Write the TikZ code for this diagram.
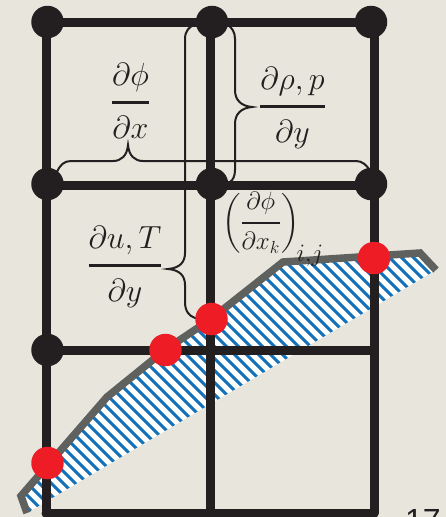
\RequirePackage{fix-cm}
\documentclass[tikz,border=0pt]{standalone}
\usepackage{amsmath}
\usepackage{fontspec}
\setmainfont{Liberation Sans}
\definecolor{bgc}{HTML}{E8E5DC}
\definecolor{ink}{HTML}{231F20}
\definecolor{surf}{HTML}{5F615E}
\definecolor{redd}{HTML}{EE1C25}
\definecolor{hatchb}{HTML}{1271B8}
\newcommand{\fr}[2]{\genfrac{}{}{3pt}{0}{#1\rule[-3pt]{0pt}{0pt}}{\rule{0pt}{26pt}#2}}
\tikzset{
  gridline/.style={draw=ink,line width=9pt,line cap=round},
  griddot/.style={circle,fill=ink,minimum size=32.5pt,inner sep=0pt},
  reddot/.style={circle,fill=redd,minimum size=32.5pt,inner sep=0pt},
  surfline/.style={draw=surf,line width=7.5pt,line join=miter},
  bracepath/.style={draw=ink,line width=2pt,line cap=round},
  stripe/.style={draw=hatchb,line width=3.1pt},
  mathlabel/.style={text=ink,inner sep=0pt,font=\fontsize{32}{38}\selectfont},
  mathsmall/.style={text=ink,inner sep=0pt,font=\fontsize{25}{30}\selectfont}
}
\begin{document}
\begin{tikzpicture}[x=1pt,y=-1pt]
\useasboundingbox (0,0) rectangle (446,517);
\clip (0,0) rectangle (446,517);
\fill[bgc] (0,0) rectangle (446,517);
% hatched body
\begin{scope}
\clip (27,513) -- (21,496) -- (107,397) -- (165,350) -- (211,319) -- (283,262) -- (420,253) -- (436,270) -- cycle;
\fill[white] (0,250) rectangle (446,517);
\foreach \k in {-30,...,45}
  \draw[stripe] ({\k*12},240) -- ++(280,280);
\end{scope}
% mask below the lower edge of the body
\fill[bgc] (27,513.5) -- (33,510) -- (432,273) -- (446,265) -- (446,517) -- (0,517) -- (0,513.5) -- cycle;
% grid points
\coordinate (a1) at (46,22);
\coordinate (b1) at (210,22);
\coordinate (c1) at (374,22);
\coordinate (a2) at (46,185.5);
\coordinate (b2) at (210,185.5);
\coordinate (c2) at (374,185.5);
\coordinate (a3) at (46,350);
\coordinate (b3) at (210,350);
\coordinate (c3) at (374,350);
\coordinate (a4) at (46,513);
\coordinate (b4) at (210,513);
\coordinate (c4) at (374,513);
\foreach \u/\v in {a1/a4,b1/b4,c1/c4,a1/c1,a2/c2,a3/c3,a4/c4}
  \draw[gridline] (\u) -- (\v);
% wall
\coordinate (s0) at (27,513);
\coordinate (s1) at (21,496);
\coordinate (s2) at (107,397);
\coordinate (s6) at (283,262);
\coordinate (s7) at (420,253);
\coordinate (s8) at (436,270);
\node[griddot] (d1) at (47.5,22) {};
\node[griddot] (d2) at (212,22) {};
\node[griddot] (d3) at (371,22) {};
\node[griddot] (d4) at (47.5,184) {};
\node[griddot] (d5) at (212,184) {};
\node[griddot] (d6) at (371,184) {};
\node[griddot] (d7) at (47.5,350) {};
\coordinate (s3) at (165,350);
\coordinate (s4) at (211,319);
\draw[surfline] (s0) -- (s1) -- (s2) -- (s3) -- (s4) -- (s6) -- (s7) -- (s8);
\node[reddot] (r1) at (47.5,463) {};
\node[reddot] (r2) at (165.5,350) {};
\node[reddot] (r3) at (211.5,319) {};
\node[reddot] (r4) at (374,258) {};
% braces
\coordinate (h1) at (57,172);
\coordinate (h2) at (128,145);
\coordinate (h3) at (370,171);
\draw[bracepath] (h1) .. controls (60,165) and (64,161) .. (71,161) -- (113,161) .. controls (121,161) and (127,156) .. (h2) .. controls (129,156) and (135,161) .. (143,161) -- (356,161) .. controls (362,161) and (367,165) .. (h3);
\coordinate (v1) at (194,25);
\coordinate (v2) at (168,269);
\coordinate (v3) at (195,318);
\draw[bracepath] (v1) .. controls (189,27) and (185,31) .. (185,39) -- (185,253) .. controls (185,262) and (180,268) .. (v2) .. controls (180,270) and (185,276) .. (185,285) -- (185,302) .. controls (185,311) and (189,316) .. (v3);
\coordinate (w1) at (228,25);
\coordinate (w2) at (252,107);
\coordinate (w3) at (230,182);
\draw[bracepath] (w1) .. controls (232,28) and (235,32) .. (235,39) -- (235,90) .. controls (235,100) and (241,106) .. (w2) .. controls (241,108) and (235,114) .. (235,124) -- (235,170) .. controls (235,176) and (233,180) .. (w3);
% labels
\node[mathlabel] (t1) at (130.5,101) {$\fr{\partial\phi}{\partial x}$};
\node[mathlabel] (t2) at (125,267) {$\fr{\partial u,T}{\partial y}$};
\node[mathlabel] (t3) at (292.5,108) {$\fr{\partial\rho,p}{\partial y}$};
\node[mathsmall,anchor=west] (t4) at (222,229) {$\left(\genfrac{}{}{2.6pt}{0}{\partial\phi}{\partial x_{\scriptstyle k}}\right)_{\!\raisebox{-7pt}{$\textstyle i{,}j$}}$};
\node[anchor=base west,inner sep=0pt,text=ink,font=\fontsize{32}{36}\selectfont] (t5) at (405,531) {17};
\end{tikzpicture}
\end{document}
